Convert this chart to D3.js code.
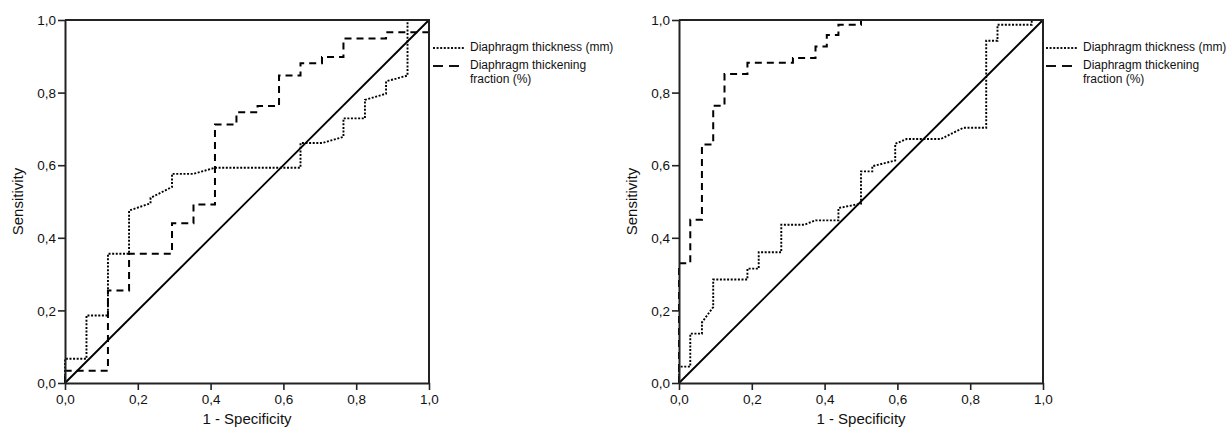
<!DOCTYPE html>
<html>
<head>
<meta charset="utf-8">
<script src="https://cdn.jsdelivr.net/npm/d3@7"></script>
<style>
  html, body { margin: 0; padding: 0; background: #fff; }
  svg { display: block; }
  text { font-family: "Liberation Sans", Arial, sans-serif; fill: #111; }
</style>
</head>
<body>
<svg id="chart" width="1229" height="435"></svg>
<script>
// ---------------- DATA ----------------
const axisTicks = [0, 0.2, 0.4, 0.6, 0.8, 1.0];
const xTitle = "1 - Specificity";
const yTitle = "Sensitivity";
const legendThickness = ["Diaphragm thickness (mm)"];
const legendFraction = ["Diaphragm thickening", "fraction (%)"];

// Left panel ROC curves [1 - specificity, sensitivity]
const leftThickness = [
  [0,0],[0,0.067],[0.059,0.067],[0.059,0.186],[0.118,0.186],[0.118,0.356],
  [0.176,0.356],[0.176,0.475],[0.235,0.495],[0.235,0.51],[0.294,0.54],[0.294,0.576],
  [0.353,0.576],[0.412,0.593],[0.647,0.593],[0.647,0.661],[0.706,0.661],[0.765,0.678],
  [0.765,0.729],[0.824,0.729],[0.824,0.78],[0.882,0.797],[0.882,0.831],[0.941,0.847],
  [0.941,1],[1,1]
];
const leftFraction = [
  [0,0],[0,0.034],[0.118,0.034],[0.118,0.255],[0.176,0.255],[0.176,0.356],
  [0.294,0.356],[0.294,0.44],[0.353,0.44],[0.353,0.492],[0.412,0.492],[0.412,0.712],
  [0.471,0.712],[0.471,0.746],[0.529,0.746],[0.529,0.763],[0.588,0.763],[0.588,0.847],
  [0.647,0.847],[0.647,0.881],[0.706,0.881],[0.706,0.898],[0.765,0.898],[0.765,0.949],
  [0.882,0.949],[0.882,0.966],[1,0.966],[1,1]
];

// Right panel ROC curves
const rightThickness = [
  [0,0],[0,0.045],[0.031,0.045],[0.031,0.136],[0.063,0.136],[0.063,0.167],
  [0.094,0.209],[0.094,0.285],[0.188,0.285],[0.188,0.315],[0.219,0.315],[0.219,0.36],
  [0.281,0.36],[0.281,0.436],[0.344,0.436],[0.375,0.448],[0.438,0.448],[0.438,0.482],
  [0.5,0.494],[0.5,0.583],[0.531,0.583],[0.531,0.597],[0.594,0.613],[0.594,0.659],
  [0.625,0.672],[0.719,0.672],[0.781,0.703],[0.844,0.703],[0.844,0.943],[0.875,0.943],
  [0.875,0.987],[0.969,0.987],[0.969,1],[1,1]
];
const rightFraction = [
  [0,0],[0,0.33],[0.031,0.33],[0.031,0.45],[0.063,0.45],[0.063,0.657],
  [0.094,0.657],[0.094,0.764],[0.125,0.764],[0.125,0.851],[0.188,0.851],[0.188,0.882],
  [0.313,0.882],[0.313,0.895],[0.375,0.895],[0.375,0.927],[0.406,0.927],[0.406,0.959],
  [0.438,0.959],[0.438,0.987],[0.5,0.987],[0.5,1],[1,1]
];
const diagonal = [[0,0],[1,1]];

// ---------------- DRAW ----------------
const svg = d3.select("#chart");
const locale = d3.formatLocale({decimal: ",", thousands: ".", grouping: [3], currency: ["", ""]});
const fmt = locale.format(".1f");

const panels = [
  {x0: 65, x1: 429, y0: 20, y1: 383, thick: leftThickness, frac: leftFraction, legendX: 433, yTitleX: 19},
  {x0: 679, x1: 1043, y0: 20, y1: 383, thick: rightThickness, frac: rightFraction, legendX: 1046, yTitleX: 633}
];

panels.forEach(p => {
  const x = d3.scaleLinear().domain([0, 1]).range([p.x0, p.x1]);
  const y = d3.scaleLinear().domain([0, 1]).range([p.y1, p.y0]);
  const g = svg.append("g");
  const line = d3.line().x(d => x(d[0])).y(d => y(d[1]));

  // diagonal reference
  g.append("path").attr("d", line(diagonal))
    .attr("fill", "none").attr("stroke", "#000").attr("stroke-width", 1.9);

  // thickness (dotted)
  g.append("path").attr("d", line(p.thick))
    .attr("fill", "none").attr("stroke", "#000").attr("stroke-width", 1.9)
    .attr("stroke-dasharray", "2,1.6");

  // fraction (dashed)
  g.append("path").attr("d", line(p.frac))
    .attr("fill", "none").attr("stroke", "#000").attr("stroke-width", 2)
    .attr("stroke-dasharray", "7,5");

  // frame (top and right)
  g.append("path")
    .attr("d", `M${p.x0},${p.y0}H${p.x1}V${p.y1}`)
    .attr("fill", "none").attr("stroke", "#222").attr("stroke-width", 2);

  // axes
  const xAxis = d3.axisBottom(x).tickValues(axisTicks).tickFormat(fmt).tickSize(7).tickSizeOuter(0);
  const yAxis = d3.axisLeft(y).tickValues(axisTicks).tickFormat(fmt).tickSize(7).tickSizeOuter(0);
  const gx = g.append("g").attr("transform", `translate(0,${p.y1})`).call(xAxis);
  const gy = g.append("g").attr("transform", `translate(${p.x0},0)`).call(yAxis);
  [gx, gy].forEach(a => {
    a.select(".domain").attr("stroke", "#222").attr("stroke-width", 2);
    a.selectAll(".tick line").attr("stroke", "#222").attr("stroke-width", 1.6);
    a.selectAll(".tick text").attr("font-size", 13.5).attr("fill", "#111")
      .style("font-family", "'Liberation Sans', Arial, sans-serif");
  });
  gx.selectAll(".tick text").attr("dy", null).attr("y", 11).attr("dominant-baseline", "hanging");
  gy.selectAll(".tick text").attr("x", -9).attr("dy", "0.35em");

  // titles
  g.append("text").attr("x", (p.x0 + p.x1) / 2).attr("y", 420)
    .attr("text-anchor", "middle").attr("dominant-baseline", "middle")
    .attr("font-size", 15).text(xTitle);
  g.append("text")
    .attr("transform", `translate(${p.yTitleX},${(p.y0 + p.y1) / 2}) rotate(-90)`)
    .attr("text-anchor", "middle").attr("dominant-baseline", "middle")
    .attr("font-size", 15).text(yTitle);

  // legend
  const lx = p.legendX;
  g.append("line").attr("x1", lx).attr("x2", lx + 31).attr("y1", 48).attr("y2", 48)
    .attr("stroke", "#111").attr("stroke-width", 1.8).attr("stroke-dasharray", "2,1.6");
  g.append("text").attr("x", lx + 37).attr("y", 48).attr("dominant-baseline", "middle")
    .attr("font-size", 12).text(legendThickness[0]);
  g.append("line").attr("x1", lx).attr("x2", lx + 27).attr("y1", 66).attr("y2", 66)
    .attr("stroke", "#111").attr("stroke-width", 2.2).attr("stroke-dasharray", "10,6");
  legendFraction.forEach((t, i) => {
    g.append("text").attr("x", lx + 37).attr("y", 66 + i * 14).attr("dominant-baseline", "middle")
      .attr("font-size", 12).text(t);
  });
});
</script>
</body>
</html>
